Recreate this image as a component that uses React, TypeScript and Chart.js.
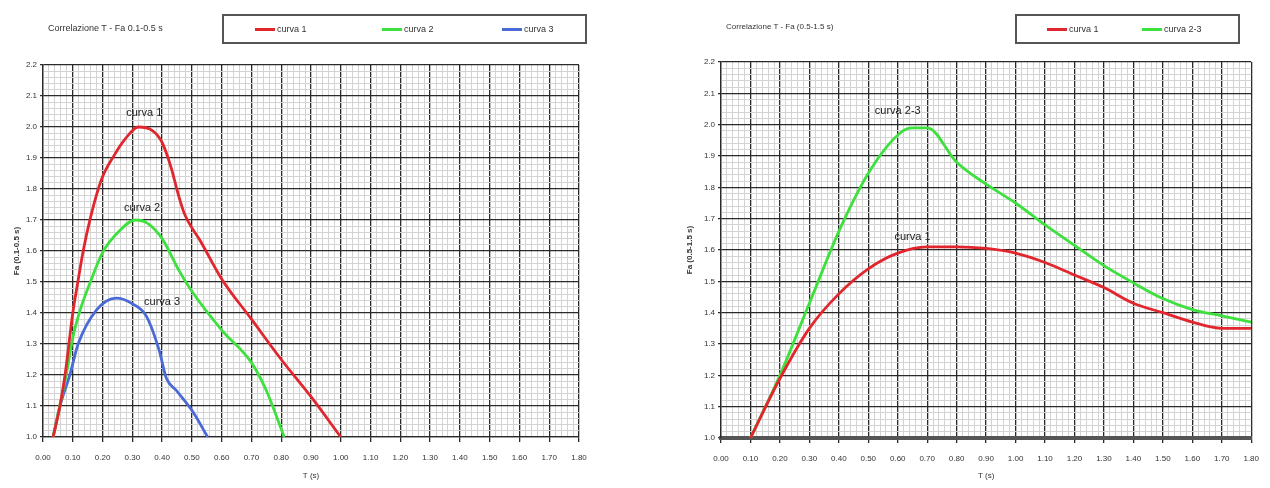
import React, { useEffect, useRef } from "react";
import { Chart, registerables } from "chart.js";
Chart.register(...registerables);

// ---------- shared ----------
const xTitle = "T (s)";
const xMin = 0;
const xMax = 1.8;
const yMin = 1.0;
const yMax = 2.2;

// ---------- left chart ----------
const leftTitle = "Correlazione T - Fa 0.1-0.5 s";
const leftYTitle = "Fa (0.1-0.5 s)";
const leftNames = ["curva 1", "curva 2", "curva 3"];
const leftC1T = [0.034, 0.057, 0.074, 0.087, 0.1, 0.117, 0.135, 0.16, 0.196, 0.24, 0.275, 0.32, 0.365, 0.4, 0.43, 0.455, 0.475, 0.53, 0.6, 0.7, 0.8, 0.9, 1.0];
const leftC1V = [1.0, 1.1, 1.2, 1.3, 1.4, 1.5, 1.6, 1.71, 1.83, 1.91, 1.96, 2.0, 1.99, 1.95, 1.87, 1.78, 1.72, 1.63, 1.51, 1.38, 1.25, 1.13, 1.0];
const leftC2T = [0.034, 0.056, 0.078, 0.1, 0.125, 0.155, 0.2, 0.257, 0.31, 0.35, 0.4, 0.455, 0.5, 0.6, 0.7, 0.75, 0.81];
const leftC2V = [1.0, 1.1, 1.2, 1.32, 1.41, 1.49, 1.595, 1.665, 1.7, 1.69, 1.64, 1.54, 1.47, 1.345, 1.24, 1.15, 1.0];
const leftC3T = [0.034, 0.057, 0.09, 0.118, 0.18, 0.246, 0.3, 0.347, 0.39, 0.414, 0.448, 0.5, 0.553];
const leftC3V = [1.0, 1.1, 1.2, 1.3, 1.41, 1.448, 1.43, 1.39, 1.28, 1.19, 1.15, 1.086, 1.0];
const leftLabelText = ["curva 1", "curva 2", "curva 3"];
const leftLabelT = [0.34, 0.333, 0.4];
const leftLabelV = [2.045, 1.74, 1.437];

// ---------- right chart ----------
const rightTitle = "Correlazione T - Fa (0.5-1.5 s)";
const rightYTitle = "Fa (0.5-1.5 s)";
const rightNames = ["curva 1", "curva 2-3"];
const rightC1T = [0.1, 0.2, 0.3, 0.4, 0.5, 0.6, 0.7, 0.8, 0.9, 1.0, 1.1, 1.2, 1.3, 1.4, 1.5, 1.6, 1.7, 1.8];
const rightC1V = [1.0, 1.19, 1.35, 1.46, 1.54, 1.59, 1.61, 1.61, 1.605, 1.59, 1.56, 1.52, 1.48, 1.43, 1.4, 1.37, 1.35, 1.35];
const rightC2T = [0.1, 0.2, 0.3, 0.41, 0.51, 0.61, 0.65, 0.7, 0.8, 0.9, 1.0, 1.1, 1.2, 1.3, 1.4, 1.5, 1.6, 1.7, 1.8];
const rightC2V = [1.0, 1.2, 1.43, 1.68, 1.86, 1.975, 1.99, 1.99, 1.88, 1.81, 1.75, 1.68, 1.615, 1.55, 1.495, 1.445, 1.41, 1.39, 1.37];
const rightLabelText = ["curva 2-3", "curva 1"];
const rightLabelT = [0.6, 0.65];
const rightLabelV = [2.045, 1.64];

// ---------- styles ----------
const RED = "#e2262e";
const GREEN = "#3ee03e";
const BLUE = "#4a6ad8";
const MAJOR = "#2a2a2a";
const MINOR = "#d3d3d3";
const TEXT = "#333";
const FONT = '"Liberation Sans", Arial, sans-serif';

function isMajor(v: number) {
  const s = v * 10;
  return Math.abs(s - Math.round(s)) < 1e-6;
}

type Series = { name: string; t: number[]; v: number[]; color: string };

type PanelProps = {
  left: number;
  width: number;
  padTop: number;
  padRight: number;
  padBottom: number;
  yWidth: number;
  xHeight: number;
  yTitlePad: number;
  thickBase: boolean;
  yTitle: string;
  series: Series[];
  labelText: string[];
  labelT: number[];
  labelV: number[];
};

function Panel(p: PanelProps) {
  const ref = useRef<HTMLCanvasElement>(null);
  useEffect(() => {
    if (!ref.current) return;
    const labelPlugin = {
      id: "curveLabels",
      afterDatasetsDraw(chart: any) {
        const ctx = chart.ctx;
        const xs = chart.scales.x;
        const ys = chart.scales.y;
        ctx.save();
        ctx.font = `11px ${FONT}`;
        ctx.fillStyle = "#222";
        ctx.textAlign = "center";
        ctx.textBaseline = "middle";
        p.labelText.forEach((s, i) => {
          ctx.fillText(s, xs.getPixelForValue(p.labelT[i]), ys.getPixelForValue(p.labelV[i]));
        });
        ctx.restore();
      },
    };
    const gridColor = (c: any) => (c.tick && isMajor(c.tick.value) ? MAJOR : MINOR);
    const gridWidth = (c: any) => (c.tick && isMajor(c.tick.value) ? 1.3 : 1);
    const tickColor = (c: any) => (c.tick && isMajor(c.tick.value) ? MAJOR : "rgba(0,0,0,0)");
    const chart = new Chart(ref.current, {
      type: "line",
      data: {
        datasets: p.series.map((s) => ({
          label: s.name,
          data: s.t.map((t, i) => ({ x: t, y: s.v[i] })),
          borderColor: s.color,
          backgroundColor: s.color,
          borderWidth: 2.8,
          pointRadius: 0,
          cubicInterpolationMode: "monotone" as const,
          fill: false,
        })),
      },
      options: {
        responsive: false,
        animation: false,
        events: [],
        layout: { padding: { left: 0, right: p.padRight, top: p.padTop, bottom: p.padBottom } },
        plugins: { legend: { display: false }, tooltip: { enabled: false }, title: { display: false } },
        scales: {
          x: {
            type: "linear",
            min: xMin,
            max: xMax,
            afterFit: (s: any) => {
              s.height = p.xHeight;
            },
            ticks: {
              stepSize: 0.02,
              autoSkip: false,
              maxRotation: 0,
              padding: 11,
              color: TEXT,
              font: { size: 8, family: FONT },
              callback: (v: any) => (isMajor(Number(v)) ? Number(v).toFixed(2) : ""),
            },
            grid: { color: gridColor, lineWidth: gridWidth, tickColor: tickColor, tickLength: 5 },
            border: { color: p.thickBase ? "#555" : MAJOR, width: p.thickBase ? 4 : 1.3 },
            title: {
              display: true,
              text: xTitle,
              color: TEXT,
              font: { size: 8, family: FONT },
              padding: { top: 0, bottom: 2 },
            },
          },
          y: {
            type: "linear",
            min: yMin,
            max: yMax,
            afterFit: (s: any) => {
              s.width = p.yWidth;
            },
            ticks: {
              stepSize: 0.02,
              autoSkip: false,
              padding: 3,
              color: TEXT,
              font: { size: 8, family: FONT },
              callback: (v: any) => (isMajor(Number(v)) ? Number(v).toFixed(1) : ""),
            },
            grid: { color: gridColor, lineWidth: gridWidth, tickColor: tickColor, tickLength: 3 },
            border: { color: MAJOR, width: 1.3 },
            title: {
              display: true,
              text: p.yTitle,
              color: TEXT,
              font: { size: 8, family: FONT, weight: "bold" },
              padding: { top: p.yTitlePad, bottom: 0 },
            },
          },
        },
      },
      plugins: [labelPlugin],
    } as any);
    return () => chart.destroy();
  }, []);
  return (
    <canvas
      ref={ref}
      width={p.width}
      height={488}
      style={{ position: "absolute", left: p.left, top: 0, width: p.width, height: 488 }}
    />
  );
}

function Legend(props: { left: number; width: number; names: string[]; colors: string[]; offsets: number[] }) {
  return (
    <div
      style={{
        position: "absolute",
        left: props.left,
        top: 14,
        width: props.width,
        height: 30,
        boxSizing: "border-box",
        border: "2px solid #555",
        background: "#fff",
      }}
    >
      {props.names.map((n, i) => (
        <div
          key={n}
          style={{
            position: "absolute",
            left: props.offsets[i],
            top: 0,
            height: 26,
            display: "flex",
            alignItems: "center",
            fontFamily: FONT,
            fontSize: 9,
            color: TEXT,
            whiteSpace: "nowrap",
          }}
        >
          <span style={{ display: "inline-block", width: 20, height: 3, background: props.colors[i], marginRight: 2 }} />
          {n}
        </div>
      ))}
    </div>
  );
}

export default function App() {
  const leftSeries: Series[] = [
    { name: leftNames[0], t: leftC1T, v: leftC1V, color: RED },
    { name: leftNames[1], t: leftC2T, v: leftC2V, color: GREEN },
    { name: leftNames[2], t: leftC3T, v: leftC3V, color: BLUE },
  ];
  const rightSeries: Series[] = [
    { name: rightNames[0], t: rightC1T, v: rightC1V, color: RED },
    { name: rightNames[1], t: rightC2T, v: rightC2V, color: GREEN },
  ];
  return (
    <div style={{ position: "absolute", left: 0, top: 0, width: 1270, height: 488, background: "#fff", overflow: "hidden" }}>
      <Panel
        left={0}
        width={600}
        padTop={65}
        padRight={21}
        padBottom={5}
        yWidth={43}
        xHeight={46}
        yTitlePad={12}
        thickBase={false}
        yTitle={leftYTitle}
        series={leftSeries}
        labelText={leftLabelText}
        labelT={leftLabelT}
        labelV={leftLabelV}
      />
      <Panel
        left={650}
        width={620}
        padTop={62}
        padRight={12}
        padBottom={5}
        yWidth={71}
        xHeight={45}
        yTitlePad={35}
        thickBase={true}
        yTitle={rightYTitle}
        series={rightSeries}
        labelText={rightLabelText}
        labelT={rightLabelT}
        labelV={rightLabelV}
      />
      <div style={{ position: "absolute", left: 48, top: 23, fontFamily: FONT, fontSize: 9, color: TEXT, whiteSpace: "nowrap" }}>
        {leftTitle}
      </div>
      <div style={{ position: "absolute", left: 726, top: 22, fontFamily: FONT, fontSize: 8, color: TEXT, whiteSpace: "nowrap" }}>
        {rightTitle}
      </div>
      <Legend left={222} width={365} names={leftNames} colors={[RED, GREEN, BLUE]} offsets={[31, 158, 278]} />
      <Legend left={1015} width={225} names={rightNames} colors={[RED, GREEN]} offsets={[30, 125]} />
    </div>
  );
}
